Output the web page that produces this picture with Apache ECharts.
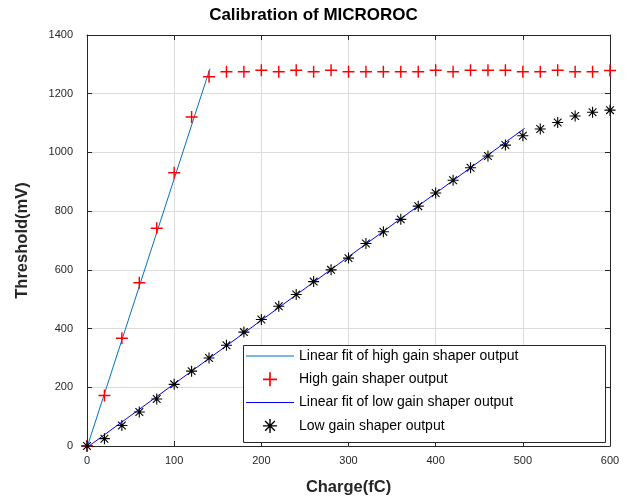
<!DOCTYPE html>
<html>
<head>
<meta charset="utf-8">
<script src="https://cdn.jsdelivr.net/npm/echarts@6/dist/echarts.min.js"></script>
<style>html,body{margin:0;padding:0;background:#fff}#c{width:627px;height:504px}</style>
</head>
<body>
<div id="c"></div>
<script>
var chargeX = [0,20,40,60,80,100,120,140,160,180,200,220,240,260,280,300,320,340,360,380,400,420,440,460,480,500,520,540,560,580,600];
var highGainY = [0,172,367,556,742,931,1121,1258,1275,1275,1280,1275,1280,1275,1280,1275,1275,1275,1275,1275,1280,1275,1280,1280,1280,1275,1275,1280,1275,1275,1279];
var lowGainY = [0,25,70,116,160,210,255,300,343,388,431,476,516,560,600,640,690,730,772,817,862,905,948,988,1025,1057,1080,1102,1124,1137,1144];
var highFitX = [0,141];
var highFitY = [-5,1285];
var lowFitX = [0,502];
var lowFitY = [-5,1082];

var names = ['Linear fit of high gain shaper output','High gain shaper output','Linear fit of low gain shaper output','Low gain shaper output'];
var plusPath = 'path://M4.4,0H5.6V4.4H10V5.6H5.6V10H4.4V5.6H0V4.4H4.4Z';
var starPath = 'path://M9,0H11V20H9ZM0,9H20V11H0ZM2.3,3.7L3.7,2.3L17.7,16.3L16.3,17.7ZM16.3,2.3L17.7,3.7L3.7,17.7L2.3,16.3Z';
var linePath = 'path://M0,0H48V1H0Z';

function zip(a,b){var r=[];for(var i=0;i<a.length;i++)r.push([a[i],b[i]]);return r;}

var axisCol = '#262626';
var font = 'Liberation Sans, Arial, Helvetica, sans-serif';
var chart = echarts.init(document.getElementById('c'));
chart.setOption({
  animation:false,
  backgroundColor:'#fff',
  title:{text:'Calibration of MICROROC',left:'center',top:2,textStyle:{fontFamily:font,fontSize:17,fontWeight:'bold',color:'#000'}},
  grid:{left:87,right:17,top:35,bottom:58,containLabel:false},
  graphic:[{type:'rect',z:10,shape:{x:243.5,y:345.5,width:362,height:97},style:{fill:'#fff',stroke:'#262626',lineWidth:1}}],
  legend:{
    orient:'vertical',left:246,top:349,z:20,
    padding:0,itemGap:9.3,itemWidth:48,itemHeight:14,
    textStyle:{fontFamily:font,fontSize:14,lineHeight:14,color:'#000'},
    data:[
      {name:names[0],icon:linePath,itemStyle:{color:'#0072BD'}},
      {name:names[1],icon:plusPath,itemStyle:{color:'#ff0000'}},
      {name:names[2],icon:linePath,itemStyle:{color:'#0000ff'}},
      {name:names[3],icon:starPath,itemStyle:{color:'#000'}}
    ]
  },
  xAxis:[{
    type:'value',min:0,max:600,interval:100,
    name:'Charge(fC)',nameLocation:'middle',nameGap:33,
    nameTextStyle:{fontFamily:font,fontSize:16.5,fontWeight:'bold',color:'#262626'},
    axisLine:{show:true,lineStyle:{color:axisCol,width:1}},
    axisTick:{show:true,inside:true,length:5,lineStyle:{color:axisCol}},
    axisLabel:{margin:9,fontFamily:font,fontSize:11,color:'#262626'},
    splitLine:{show:true,lineStyle:{color:'#dcdcdc',width:1}}
  },{
    type:'value',min:0,max:600,interval:100,position:'top',
    axisLine:{show:true,onZero:false,lineStyle:{color:axisCol,width:1}},
    axisTick:{show:true,inside:true,length:5,lineStyle:{color:axisCol}},
    axisLabel:{show:false},splitLine:{show:false}
  }],
  yAxis:[{
    type:'value',min:0,max:1400,interval:200,
    name:'Threshold(mV)',nameLocation:'middle',nameGap:56,
    nameTextStyle:{fontFamily:font,fontSize:16.5,fontWeight:'bold',color:'#262626'},
    axisLine:{show:true,lineStyle:{color:axisCol,width:1}},
    axisTick:{show:true,inside:true,length:5,lineStyle:{color:axisCol}},
    axisLabel:{margin:14,fontFamily:font,fontSize:11,color:'#262626',formatter:function(v){return String(v);}},
    splitLine:{show:true,lineStyle:{color:'#dcdcdc',width:1}}
  },{
    type:'value',min:0,max:1400,interval:200,position:'right',
    axisLine:{show:true,onZero:false,lineStyle:{color:axisCol,width:1}},
    axisTick:{show:true,inside:true,length:5,lineStyle:{color:axisCol}},
    axisLabel:{show:false},splitLine:{show:false}
  }],
  series:[
    {name:names[0],type:'line',data:zip(highFitX,highFitY),symbol:'none',clip:true,
     lineStyle:{color:'#0072BD',width:1},itemStyle:{color:'#0072BD'},z:3},
    {name:names[1],type:'scatter',data:zip(chargeX,highGainY),symbol:plusPath,symbolSize:12,clip:false,
     itemStyle:{color:'#ff0000',opacity:1},z:4},
    {name:names[2],type:'line',data:zip(lowFitX,lowFitY),symbol:'none',clip:true,
     lineStyle:{color:'#0000ff',width:1},itemStyle:{color:'#0000ff'},z:3},
    {name:names[3],type:'scatter',data:zip(chargeX,lowGainY),symbol:starPath,symbolSize:11,clip:false,
     itemStyle:{color:'#000',opacity:1},z:4}
  ]
});
</script>
</body>
</html>
